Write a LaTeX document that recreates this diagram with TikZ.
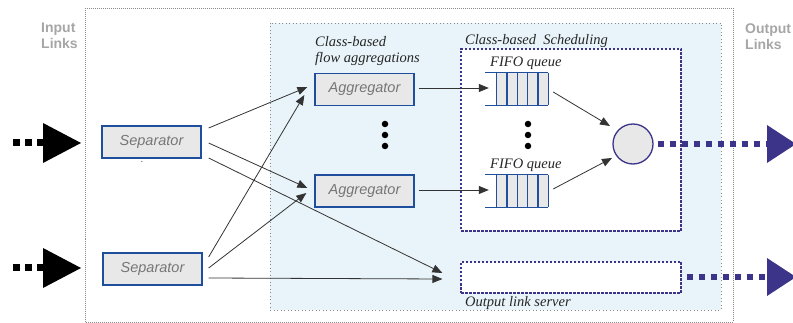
\documentclass[tikz,border=0pt]{standalone}
\usepackage{fontspec}
\setmainfont{Liberation Serif}
\setsansfont{Liberation Sans}
\usetikzlibrary{arrows.meta,calc}

\definecolor{boxblue}{HTML}{1F4E9C}
\definecolor{navy}{HTML}{3B3489}
\definecolor{boxfill}{HTML}{E8E8E8}
\definecolor{textgray}{HTML}{767676}
\definecolor{labelgray}{HTML}{A6A6A6}
\definecolor{panel}{HTML}{E8F4F9}
\definecolor{wire}{HTML}{333333}
\definecolor{framegray}{HTML}{8A8A8A}

\tikzset{
  block/.style={draw=boxblue, line width=1.3pt, fill=boxfill, minimum width=99pt,
    minimum height=32pt, inner sep=0pt, text=textgray,
    font=\sffamily\itshape\fontsize{14.5}{16}\selectfont},
  conn/.style={draw=wire, line width=0.8pt, -{Triangle[length=10pt,width=8pt]}},
  note/.style={anchor=base west, inner sep=0pt, text=black!85,
    font=\itshape\fontsize{14.5}{16}\selectfont},
  linklabel/.style={anchor=north west, inner sep=0pt, align=left, text=labelgray,
    font=\sffamily\bfseries\fontsize{14}{16}\selectfont},
  queue/.style={fill=boxfill, minimum width=51pt, minimum height=32pt, inner sep=0pt},
  qline/.style={draw=boxblue, line width=1.3pt},
  navybox/.style={draw=navy, fill=white, line width=1.2pt, dash pattern=on 2.5pt off 1.5pt},
  inlink/.style={draw=black, line width=7pt, dash pattern=on 7pt off 5pt},
  outlink/.style={draw=navy, line width=6pt, dash pattern=on 6pt off 6pt},
  vdot/.style={circle, fill=black, inner sep=0pt, minimum size=6.5pt}
}

\begin{document}
\begin{tikzpicture}[x=1pt, y=-1pt]
\useasboundingbox (0,0) rectangle (793,323);

% outer system frame and the shaded router core
\draw[framegray, line width=0.8pt, dash pattern=on 1pt off 1pt] (85,8.5) rectangle (733,322);
\fill[panel] (270,23) rectangle (721,310);
\draw[framegray, line width=0.8pt, dash pattern=on 1pt off 2.5pt] (270,23) rectangle (721,310);

% side labels
\node[linklabel] (inlbl) at (41,23) {Input\\Links};
\node[linklabel] (outlbl) at (745,24) {Output\\Links};

% scheduling area and output link server
\node[navybox, minimum width=220pt, minimum height=182pt, inner sep=0pt] (sched) at (571,140) {};
\node[navybox, minimum width=220pt, minimum height=31pt, inner sep=0pt] (srv) at (571,277.5) {};

% separators and aggregators
\node[block] (sep1) at (151.5,142) {Separator};
\node[block] (sep2) at (152.5,269) {Separator};
\node[font=\sffamily\fontsize{8}{8}\selectfont, inner sep=0pt] (stray) at (142,162) {.};
\node[block] (agg1) at (364.5,89.5) {Aggregator};
\node[block] (agg2) at (364.5,191) {Aggregator};

% FIFO queues
\node[queue] (q1) at (522.5,89) {};
\node[queue] (q2) at (522.5,191) {};
\foreach \q in {q1,q2}{
  \draw[qline] ($(\q.north west)+(-12,0)$) -- (\q.north east);
  \draw[qline] ($(\q.south west)+(-12,0)$) -- (\q.south east);
  \foreach \i in {0,...,5}
    \draw[qline] ($(\q.north west)!\i/5!(\q.north east)$) -- ($(\q.south west)!\i/5!(\q.south east)$);
}

% scheduler
\node[circle, draw=navy, fill=boxfill, line width=1.3pt, minimum size=40pt, inner sep=0pt] (mux) at (633,144) {};

% vertical ellipses
\foreach \y in {124,135,146}{
  \node[vdot] at (385,\y) {};
  \node[vdot] at (528,\y) {};
}

% labels
\node[note] (lblagg1) at (315,47) {Class-based};
\node[note] (lblagg2) at (315,63) {flow aggregations};
\node[note] (lblsched) at (465,45) {Class-based\ \ Scheduling};
\node[note] (lblq1) at (490,66.5) {FIFO queue};
\node[note] (lblq2) at (490,168.5) {FIFO queue};
\node[note] (lblsrv) at (465,306.5) {Output link server};

% connectors
\draw[conn] ($(sep1.east)+(7,-14)$) -- ($(agg1.west)+(-7,-2.5)$);
\draw[conn] ($(sep1.east)+(7,1)$) -- ($(agg2.west)+(-7,-3)$);
\draw[conn] ($(sep1.east)+(7,16)$) -- ($(srv.west)+(-18,-4.5)$);
\draw[conn] ($(sep2.east)+(6,-12)$) -- ($(agg1.west)+(-10,5.5)$);
\draw[conn] ($(sep2.east)+(6,-1)$) -- ($(agg2.west)+(-8,2)$);
\draw[conn] ($(sep2.east)+(6,9)$) -- ($(srv.west)+(-18,1.5)$);
\draw[conn] ($(agg1.east)+(4,-1.5)$) -- ($(q1.west)+(-8,-1)$);
\draw[conn] ($(agg2.east)+(4,-1)$) -- ($(q2.west)+(-8,-1)$);
\draw[conn] ($(q1.east)+(5,3)$) -- ($(mux.center)+(-23,-18)$);
\draw[conn] ($(q2.east)+(5,-2)$) -- ($(mux.center)+(-21,14)$);

% input links
\coordinate (in1) at (13,143);
\coordinate (in2) at (13,268);
\foreach \c in {in1,in2}{
  \draw[inlink] (\c) -- ($(\c)+(32,0)$);
  \fill[black] ($(\c)+(30,-20)$) -- ($(\c)+(68,0)$) -- ($(\c)+(30,20)$) -- cycle;
}

% output links
\coordinate (out1) at (767,144);
\coordinate (out2) at (767,277);
\draw[outlink] ($(mux.east)+(4,0)$) -- (out1);
\draw[outlink] ($(srv.east)+(5,-0.5)$) -- (out2);
\foreach \c in {out1,out2}
  \fill[navy] ($(\c)+(0,-19)$) -- ($(\c)+(29,0)$) -- ($(\c)+(0,19)$) -- cycle;
\end{tikzpicture}
\end{document}
